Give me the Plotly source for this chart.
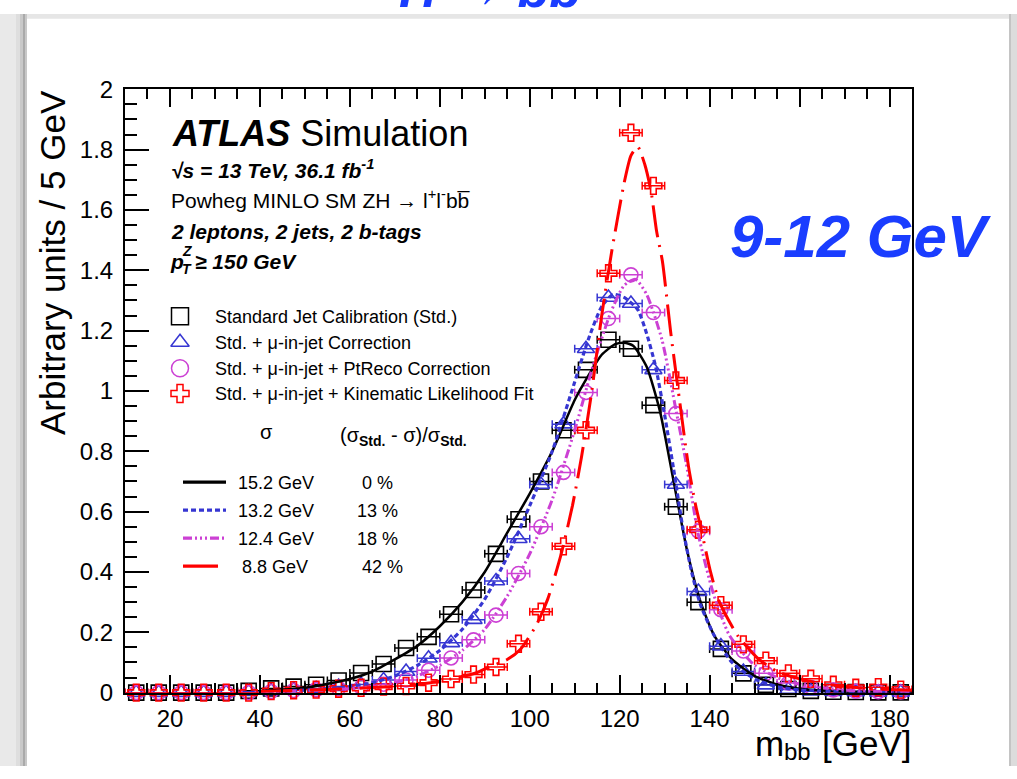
import plotly.graph_objects as go

W, H = 1017, 779

# ---------------- data ----------------
mbb = [12.5, 17.5, 22.5, 27.5, 32.5, 37.5, 42.5, 47.5, 52.5, 57.5, 62.5, 67.5,
       72.5, 77.5, 82.5, 87.5, 92.5, 97.5, 102.5, 107.5, 112.5, 117.5, 122.5,
       127.5, 132.5, 137.5, 142.5, 147.5, 152.5, 157.5, 162.5, 167.5, 172.5,
       177.5, 182.5]

std_vals = [0, 0, 0, 0, 0, 0.006, 0.014, 0.02, 0.026, 0.04, 0.065, 0.095,
            0.148, 0.185, 0.26, 0.34, 0.46, 0.575, 0.70, 0.87, 1.07, 1.17, 1.14,
            0.953, 0.616, 0.30, 0.145, 0.064, 0.026, 0.012, 0.006, 0.003, 0.002,
            0.001, 0.001]

mu_vals = [0, 0, 0, 0, 0, 0.003, 0.006, 0.01, 0.013, 0.02, 0.027, 0.042,
           0.07, 0.114, 0.165, 0.242, 0.37, 0.51, 0.69, 0.89, 1.14, 1.31, 1.29,
           1.07, 0.69, 0.335, 0.154, 0.07, 0.025, 0.01, 0.005, 0.003, 0.002,
           0.001, 0.001]

ptreco_vals = [0, 0, 0, 0, 0, 0, 0.004, 0.007, 0.01, 0.014, 0.018, 0.028,
               0.042, 0.074, 0.115, 0.175, 0.257, 0.395, 0.55, 0.73, 0.995, 1.24,
               1.385, 1.26, 0.925, 0.535, 0.275, 0.138, 0.064, 0.032, 0.018,
               0.009, 0.005, 0.003, 0.002]

kinfit_vals = [0, 0, 0, 0, 0, 0, 0.005, 0.008, 0.01, 0.013, 0.016, 0.02,
               0.022, 0.033, 0.045, 0.06, 0.085, 0.162, 0.268, 0.485, 0.87, 1.39,
               1.856, 1.68, 1.035, 0.54, 0.29, 0.16, 0.106, 0.064, 0.046, 0.026,
               0.016, 0.018, 0.01]

half_bin = 2.5

# fitted curves
fit_std_x = [40, 50, 60, 65, 70, 75, 80, 85, 90, 95, 100, 105, 110, 113, 116,
             119, 121, 123, 126, 129, 132, 135, 138, 141, 145, 150, 155, 160,
             170, 185]
fit_std_y = [0.005, 0.016, 0.045, 0.07, 0.11, 0.155, 0.22, 0.30, 0.40, 0.53,
             0.66, 0.80, 0.97, 1.05, 1.12, 1.155, 1.16, 1.15, 1.08, 0.93, 0.70,
             0.47, 0.30, 0.19, 0.11, 0.055, 0.027, 0.013, 0.004, 0.001]

fit_mu_x = [40, 50, 60, 65, 70, 75, 80, 85, 90, 95, 100, 105, 110, 113, 116,
            118.5, 121, 124, 126, 128, 130, 132, 134, 136, 138, 141, 145, 150,
            155, 160, 170, 185]
fit_mu_y = [0.002, 0.008, 0.02, 0.033, 0.055, 0.09, 0.14, 0.21, 0.31, 0.45,
            0.62, 0.80, 1.03, 1.17, 1.28, 1.32, 1.31, 1.27, 1.19, 1.08, 0.92,
            0.74, 0.55, 0.40, 0.29, 0.19, 0.10, 0.045, 0.02, 0.009, 0.003, 0.0]

fit_ptreco_x = [40, 50, 60, 65, 70, 75, 80, 85, 90, 95, 100, 105, 110, 114,
                118, 121, 123.5, 126, 129.4, 132.6, 134.8, 137.4, 140.8, 144.4,
                149.6, 155, 160, 170, 185]
fit_ptreco_y = [0.002, 0.006, 0.013, 0.02, 0.033, 0.055, 0.09, 0.14, 0.21,
                0.32, 0.46, 0.64, 0.87, 1.08, 1.26, 1.35, 1.37, 1.32, 1.17, 0.93,
                0.76, 0.53, 0.33, 0.19, 0.096, 0.05, 0.028, 0.008, 0.002]

fit_kinfit_x = [40, 50, 60, 66, 72, 78, 84, 88, 91, 95, 98, 101.5, 104, 107,
                109.5, 111.5, 113.8, 116, 118.2, 121, 122.5, 124, 125.6, 127,
                128.2, 129.5, 131.3, 133.3, 135.3, 136.9, 138, 140.2, 142.2,
                146.2, 151, 155, 159.4, 165, 172, 180, 185]
fit_kinfit_y = [0.004, 0.008, 0.013, 0.018, 0.022, 0.033, 0.05, 0.065, 0.085,
                0.11, 0.145, 0.225, 0.31, 0.46, 0.62, 0.78, 1.0, 1.25, 1.46,
                1.69, 1.78, 1.81, 1.75, 1.66, 1.53, 1.43, 1.2, 0.97, 0.75, 0.62,
                0.55, 0.40, 0.30, 0.19, 0.11, 0.07, 0.048, 0.03, 0.018, 0.01,
                0.008]

marker_labels = ["Standard Jet Calibration (Std.)",
                 "Std. + \u03bc-in-jet Correction",
                 "Std. + \u03bc-in-jet + PtReco Correction",
                 "Std. + \u03bc-in-jet + Kinematic Likelihood Fit"]
sigma_labels = ["15.2 GeV", "13.2 GeV", "12.4 GeV", "8.8 GeV"]
improve_labels = ["0 %", "13 %", "18 %", "42 %"]

# ---------------- styles ----------------
FONT = "Liberation Sans, Arial, Helvetica, sans-serif"
BLACK = "#000000"
BLUE = "#3636d2"
MAG = "#cc40d4"
RED = "#ff0000"

series = [
    (std_vals, BLACK, "square-open", 15, fit_std_x, fit_std_y, "solid", 2.5),
    (mu_vals, BLUE, "triangle-up-open", 15, fit_mu_x, fit_mu_y, "5px,3px", 3.2),
    (ptreco_vals, MAG, "circle-open", 14, fit_ptreco_x, fit_ptreco_y,
     "9px,3px,2px,3px,2px,3px,2px,3px", 3),
    (kinfit_vals, RED, "cross-open", 14, fit_kinfit_x, fit_kinfit_y,
     "32px,8px,2px,8px", 3),
]

fig = go.Figure()

# data points with x error bars
for vals, col, sym, sz, fx, fy, dash, lw in series:
    fig.add_trace(go.Scatter(
        x=mbb, y=vals, mode="markers", cliponaxis=False, showlegend=False,
        marker=dict(symbol=sym, size=sz, color=col, line=dict(color=col, width=1.6)),
        error_x=dict(type="constant", value=half_bin, width=4, thickness=1.5, color=col),
        xaxis="x", yaxis="y"))

# fitted curves
for vals, col, sym, sz, fx, fy, dash, lw in series:
    fig.add_trace(go.Scatter(
        x=fx, y=fy, mode="lines", showlegend=False,
        line=dict(color=col, width=lw, dash=dash, shape="spline", smoothing=0.6),
        xaxis="x", yaxis="y"))

# ---------------- legend (pixel coordinates on x2/y2) ----------------
leg_marker_x = 180
leg_rows_y = [313, 340, 367, 393]
leg_syms = [("square-open", BLACK, 17), ("triangle-up-open", BLUE, 16),
            ("circle-open", MAG, 17), ("cross-open", RED, 15)]
for (sym, col, sz), yy in zip(leg_syms, leg_rows_y):
    fig.add_trace(go.Scatter(
        x=[leg_marker_x], y=[yy], mode="markers", showlegend=False, cliponaxis=False,
        marker=dict(symbol=sym, size=sz, color=col, line=dict(color=col, width=1.5)),
        xaxis="x2", yaxis="y2"))

line_rows_y = [485, 514, 543, 572]
line_samples = [(BLACK, "solid", 3.2, 226), (BLUE, "5px,3px", 3.2, 226),
                (MAG, "9px,3px,2px,3px,2px,3px,2px,3px", 3.2, 226),
                (RED, "solid", 3.2, 218)]
for (col, dash, lw, xe), yy in zip(line_samples, line_rows_y):
    fig.add_trace(go.Scatter(
        x=[183, xe], y=[yy, yy], mode="lines", showlegend=False, cliponaxis=False,
        line=dict(color=col, width=lw, dash=dash), xaxis="x2", yaxis="y2"))

annotations = []


def txt(x, y, text, size, xanchor="left", yanchor="middle", color="black", **kw):
    annotations.append(dict(x=x, y=y, xref="x2", yref="y2", text=text, showarrow=False,
                            xanchor=xanchor, yanchor=yanchor,
                            font=dict(family=FONT, size=size, color=color), **kw))


for lab, yy in zip(marker_labels, leg_rows_y):
    txt(213, yy + 1, lab, 18)

sig_x = [236, 236, 236, 240]
for lab, xx, yy in zip(sigma_labels, sig_x, line_rows_y):
    txt(xx, yy + 1, lab, 18)
imp_x = [377, 377, 377, 382]
for lab, xx, yy in zip(improve_labels, imp_x, line_rows_y):
    txt(xx, yy + 1, lab, 18, xanchor="center")

txt(266, 433, "\u03c3", 20, xanchor="center")
txt(338, 438, "(\u03c3<sub><b>Std.</b></sub> - \u03c3)/\u03c3<sub><b>Std.</b></sub>", 20)

# ATLAS label block
txt(170, 124, "<b><i>ATLAS</i></b> Simulation", 36)
txt(169, 161, "<b><i>\u221as = 13 TeV, 36.1 fb<sup>-1</sup></i></b>", 21)
txt(169, 192, "Powheg MINLO SM ZH \u2192 l<sup>+</sup>l<sup>-</sup>bb\u0305", 21)
txt(169, 225, "<b><i>2 leptons, 2 jets, 2 b-tags</i></b>", 21)
txt(168, 256, "<b><i>p</i></b>", 21)
txt(180, 245, "<b><i>Z</i></b>", 14)
txt(180, 264, "<b><i>T</i></b>", 14)
txt(193, 256, "<b><i>\u2265 150 GeV</i></b>", 21)

# slide texts
txt(728, 231, "<b><i>9-12 GeV</i></b>", 60, color="#1a3dff")
txt(490, 6, "<b><i>H \u2192 bb</i></b>", 52, xanchor="center", yanchor="bottom",
    color="#1a3dff")

# axis titles
txt(52, 258, "Arbitrary units / 5 GeV", 35, xanchor="center", textangle=-90)
txt(753, 756, "m", 35)
txt(782, 764, "bb", 24)
txt(913, 756, "[GeV]", 35, xanchor="right")

# ---------------- slide shadow ----------------
shapes = []


def rect(x0, x1, y0, y1, col, layer="below"):
    shapes.append(dict(type="rect", xref="x2", yref="y2", x0=x0, x1=x1, y0=y0, y1=y1,
                       fillcolor=col, line=dict(width=0), layer=layer))


rect(0, W, 0, 5, "#e6e6e6")
left_strips = [(0, 16, "#e9e9e9"), (16, 20, "#dedede"), (20, 23, "#c9c9c9"),
               (23, 25, "#aaaaaa"), (25, 27, "#c8c8c8")]
for a, b, c in left_strips:
    rect(a, b, 0, H, c)
right_strips = [(1009, 1011, "#c4c4c4"), (1011, W, "#dcdcdc")]
for a, b, c in right_strips:
    rect(a, b, 0, H, c)

x0p, x1p = 125 / W, 912 / W
y0p, y1p = 1 - 703 / H, 1 - 78 / H

fig.update_layout(
    width=W, height=H, margin=dict(l=0, r=0, t=0, b=0),
    paper_bgcolor="white", plot_bgcolor="rgba(0,0,0,0)",
    showlegend=False, annotations=annotations, shapes=shapes,
    font=dict(family=FONT, color="black"),
    xaxis=dict(domain=[x0p, x1p], range=[10, 185], tick0=0, dtick=20,
               ticks="inside", ticklen=18, tickwidth=1.5, tickcolor="black",
               minor=dict(dtick=5, tick0=0, ticks="inside", ticklen=10,
                          tickwidth=1.5, tickcolor="black"),
               showline=True, linewidth=2, linecolor="black", mirror="ticks",
               showgrid=False, zeroline=False, anchor="y",
               tickfont=dict(family=FONT, size=24, color="black"),
               ticklabelstandoff=4),
    yaxis=dict(domain=[y0p, y1p], range=[0, 2], tick0=0, dtick=0.2,
               ticks="inside", ticklen=24, tickwidth=1.5, tickcolor="black",
               minor=dict(dtick=0.05, tick0=0, ticks="inside", ticklen=12,
                          tickwidth=1.5, tickcolor="black"),
               showline=True, linewidth=2, linecolor="black", mirror=True,
               showgrid=False, zeroline=False, anchor="x",
               tickfont=dict(family=FONT, size=24, color="black"),
               ticklabelstandoff=5),
    xaxis2=dict(domain=[0, 1], range=[0, W], visible=False, anchor="y2",
                fixedrange=True),
    yaxis2=dict(domain=[0, 1], range=[H, 0], visible=False, anchor="x2",
                fixedrange=True),
)

fig.write_html("out.html")
